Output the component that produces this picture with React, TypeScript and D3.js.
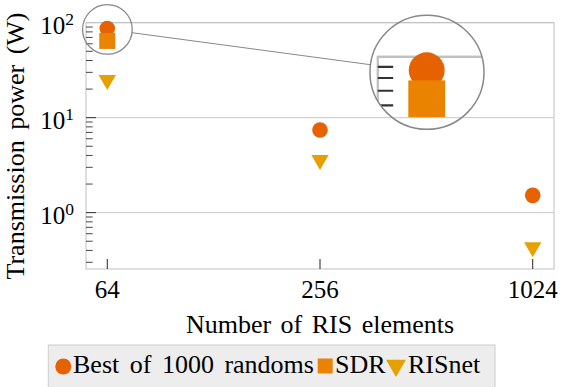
import React from 'react'
import * as d3 from 'd3'

// RIS elements on the x axis (log2)
const ris = [64, 256, 1024]
// transmission power (W)
const bestRandom = [86.9, 7.42, 1.52]
const sdr: (number | null)[] = [64.3, null, null]
const risnet = [24.9, 3.59, 0.432]
const yMajor = [1, 10, 100]
const yExp = ['0', '1', '2']
const legendLabels = ['Best of 1000 randoms', 'SDR', 'RISnet']

const W = 561, H = 387
const font = "'Liberation Serif', 'Times New Roman', serif"
const colors = {circle: '#e66100', square: '#e98300', tri: '#e6a000'}

const x = d3.scaleLog().base(2)
  .domain([64 * Math.pow(2, -0.2), 1024 * Math.pow(2, 0.2)])
  .range([86, 554])
const y = d3.scaleLog().domain([0.255, 100]).range([269, 22.7])

const triPath = (r: number) => {
  const h = r * Math.sqrt(3) / 2
  return `M0,${r}L${-h},${-r / 2}L${h},${-r / 2}Z`
}

// minor ticks 2..9 x 10^k inside the y domain
const minorTicks: number[] = []
for (let k = -1; k <= 1; k++) {
  for (let m = 2; m <= 9; m++) {
    const v = m * Math.pow(10, k)
    if (v >= y.domain()[0] && v <= y.domain()[1]) minorTicks.push(v)
  }
}

const Plot = () => {
  const [x0, x1] = x.range()
  const [y0, y1] = y.range()
  return (
    <g>
      {yMajor.map(v => (
        <line key={'g' + v} x1={x0} x2={x1} y1={y(v)} y2={y(v)} stroke="#c8c8c8" strokeWidth={1} />
      ))}
      <rect x={x0} y={y1} width={x1 - x0} height={y0 - y1} fill="none" stroke="#c0c0c0" strokeWidth={1} />
      {yMajor.filter(v => v < 100).map(v => (
        <line key={'t' + v} x1={x0} x2={x0 + 10} y1={y(v)} y2={y(v)} stroke="#333" strokeWidth={1} />
      ))}
      {minorTicks.map(v => (
        <line key={'m' + v} x1={x0} x2={x0 + 6.7} y1={y(v)} y2={y(v)} stroke="#333" strokeWidth={0.9} />
      ))}
      {ris.map(v => (
        <line key={'x' + v} x1={x(v)} x2={x(v)} y1={y0} y2={y0 - 10} stroke="#222" strokeWidth={1} />
      ))}
      {ris.map((v, i) => (
        <circle key={'c' + v} cx={x(v)} cy={y(bestRandom[i])} r={7.8} fill={colors.circle} />
      ))}
      {ris.map((v, i) => sdr[i] == null ? null : (
        <rect key={'s' + v} x={x(v) - 8} y={y(sdr[i] as number) - 8} width={16} height={16} fill={colors.square} />
      ))}
      {ris.map((v, i) => (
        <path key={'r' + v} d={triPath(10)} transform={`translate(${x(v)},${y(risnet[i])})`} fill={colors.tri} />
      ))}
    </g>
  )
}

export default function App() {
  // spy: small circle on the first points, magnified into a big circle
  const spy = {cx: 107.4, cy: 29.4, r: 24.8, bx: 427, by: 72.3, k: 2.3}
  const bigR = spy.r * spy.k
  const dx = spy.bx - spy.cx, dy = spy.by - spy.cy
  const len = Math.hypot(dx, dy)
  const ux = dx / len, uy = dy / len

  return (
    <svg width={W} height={H} style={{position: 'absolute', left: 0, top: 0, fontFamily: font}}>
      <defs>
        <clipPath id="spyclip">
          <circle cx={spy.bx} cy={spy.by} r={bigR} />
        </clipPath>
      </defs>
      <Plot />

      {yMajor.map((v, i) => (
        <text key={'yl' + v} x={74} y={y(v) + 11.3} textAnchor="end" fontSize={25} fill="#000">
          <tspan>10</tspan>
          <tspan dy={-9} fontSize={17.5}>{yExp[i]}</tspan>
        </text>
      ))}
      {ris.map(v => (
        <text key={'xl' + v} x={x(v)} y={298.3} textAnchor="middle" fontSize={25} fill="#000">{v}</text>
      ))}
      <text x={320} y={333.3} textAnchor="middle" fontSize={26} fill="#000" wordSpacing={3}>Number of RIS elements</text>
      <text transform={`translate(24,146) rotate(-90)`} textAnchor="middle" fontSize={26} fill="#000" wordSpacing={4}>
        Transmission power (W)
      </text>

      {/* spy */}
      <circle cx={spy.cx} cy={spy.cy} r={spy.r} fill="none" stroke="#888" strokeWidth={1.3} />
      <g clipPath="url(#spyclip)">
        <g transform={`translate(${spy.bx},${spy.by}) scale(${spy.k}) translate(${-spy.cx},${-spy.cy})`}>
          <Plot />
        </g>
      </g>
      <circle cx={spy.bx} cy={spy.by} r={bigR} fill="none" stroke="#888" strokeWidth={1.5} />
      <line x1={spy.cx + ux * spy.r} y1={spy.cy + uy * spy.r} x2={spy.bx - ux * bigR} y2={spy.by - uy * bigR}
        stroke="#888" strokeWidth={1} />

      {/* legend */}
      <rect x={48.3} y={345} width={446.7} height={46} fill="#ededed" stroke="#cccccc" strokeWidth={1} />
      <circle cx={63.3} cy={366.5} r={8} fill={colors.circle} />
      <text x={73} y={373.3} fontSize={26} fill="#000" wordSpacing={4}>{legendLabels[0]}</text>
      <rect x={317.7} y={358.5} width={15} height={15} fill={colors.square} />
      <text x={335} y={373.3} fontSize={26} fill="#000">{legendLabels[1]}</text>
      <path d={triPath(11.5)} transform="translate(396,365.5)" fill={colors.tri} />
      <text x={408} y={373.3} fontSize={26} fill="#000">{legendLabels[2]}</text>
    </svg>
  )
}
